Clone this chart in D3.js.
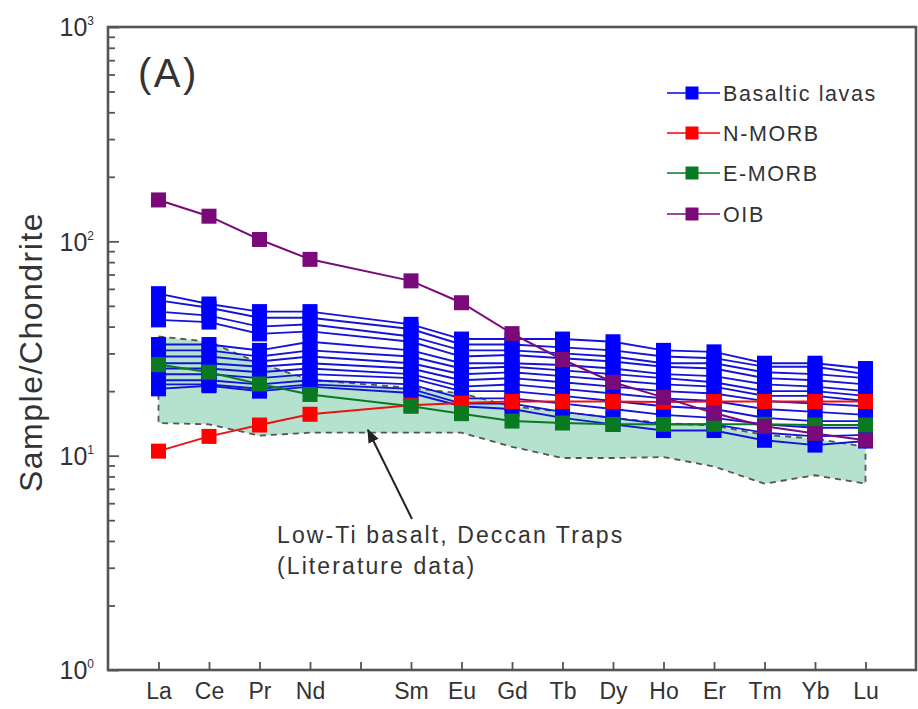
<!DOCTYPE html>
<html><head><meta charset="utf-8">
<script src="https://cdn.jsdelivr.net/npm/d3@7"></script>
<style>body{margin:0;background:#fff}svg{display:block}text{font-family:"Liberation Sans",Arial,sans-serif;fill:#333}</style>
</head><body><svg id="c" width="918" height="709"></svg>
<script>
// ---- data ----
const positions = ["La","Ce","Pr","Nd","Pm","Sm","Eu","Gd","Tb","Dy","Ho","Er","Tm","Yb","Lu"];
const ree = ["La","Ce","Pr","Nd","Sm","Eu","Gd","Tb","Dy","Ho","Er","Tm","Yb","Lu"];
const yTickValues = [1,10,100,1000];
const yTickExponents = ["0","1","2","3"];

const nMorb = [10.5,12.3,13.9,15.6,17.2,17.6,17.9,17.9,17.9,17.8,17.9,17.9,17.9,17.9];
const eMorb = [26.6,24.5,21.6,19.3,17.0,15.7,14.5,14.2,14.0,14.0,14.0,14.0,13.9,13.9];
const oib   = [156,131,102,82.4,65.4,51.7,37.1,28.1,22.0,18.7,15.8,13.7,12.7,11.8];

const basalt1  = [57,51,47,47,41,35,35,35,34,31,30.5,27,27,25.5];
const basalt2  = [53,49,44,44,39,33,33,32,31,29,28.5,26,26,24];
const basalt3  = [47,45,40,41,36,31,31,30,29,27,27,24.5,24,23];
const basalt4  = [43,42,37,38,34,29,29.5,28.5,27.5,26,25.5,23,22.5,21.5];
const basalt5  = [33,33,31,34,31,27,27,26.5,25.5,24,23.5,21.5,21,20];
const basalt6  = [31,31,29,31,29,25.5,26,25,24,23,22,20,20,19];
const basalt7  = [29,29,27.5,29,27,24,24.5,23.5,22.5,21.5,21,19,19,18];
const basalt8  = [27,27,26,27,25.5,22.5,23,22,21,20,19.5,18,17.5,17];
const basalt9  = [25.5,25.5,24.5,25.5,24,21,21.5,20.5,19.5,18.5,18,16.5,16,15.5];
const basalt10 = [24,24,23,24,23,20,20,19,18,17,16.5,15,14.5,14.5];
const basalt11 = [22.5,22.5,21.5,22.5,21.5,18.5,18.5,17.5,16.5,15.5,15,14,13.5,13.5];
const basalt12 = [21.5,21.5,20.5,21.5,20.5,17.5,17.5,16,15,14,14,12.8,12.3,12.5];
const basalt13 = [20.5,21.2,20,21,19.6,17,16.5,15,14,13.1,13.1,11.8,11.2,11.7];
const basaltSamples = [basalt1,basalt2,basalt3,basalt4,basalt5,basalt6,basalt7,basalt8,basalt9,basalt10,basalt11,basalt12,basalt13];

const deccanUpper = [36,34,27,22.6,20.7,19.5,17,16,15,14.2,13.8,12.5,12,11];
const deccanLower = [14.2,14,12.4,12.8,12.8,12.8,11,9.75,9.75,9.85,8.9,7.4,8.1,7.4];

const legendLabels = ["Basaltic lavas","N-MORB","E-MORB","OIB"];

// ---- chart ----
const svg = d3.select("#c");
const L=108, R=916, T=27, B=670;
const x = d3.scalePoint().domain(positions).range([L,R]).padding(1);
const y = d3.scaleLog().domain([1,1000]).range([B,T]);

const col = {blue:"#0000ff", red:"#ff0000", green:"#0a7a22", purple:"#7a0a7a"};

// Deccan field
const area = d3.area().x((d,i)=>x(ree[i])).y0(d=>y(d[1])).y1(d=>y(d[0]));
const band = deccanUpper.map((u,i)=>[u,deccanLower[i]]);
svg.append("path").attr("d",area(band)).attr("fill","#b4e2cf").attr("stroke","none");
const outline = ree.map((r,i)=>[x(r),y(deccanUpper[i])]).concat(ree.slice().reverse().map((r,j)=>[x(r),y(deccanLower[ree.length-1-j])]));
svg.append("path").attr("d",d3.line()(outline)+"Z").attr("fill","none")
  .attr("stroke","#555").attr("stroke-width",1.8).attr("stroke-dasharray","6,5");

const line = d3.line().x((d,i)=>x(ree[i])).y(d=>y(d));
const ms = 15;
function series(data, c, lc, lw){
  const g = svg.append("g");
  g.append("path").attr("d",line(data)).attr("fill","none").attr("stroke",lc).attr("stroke-width",lw);
  g.selectAll("rect").data(data).join("rect")
    .attr("x",(d,i)=>x(ree[i])-ms/2).attr("y",d=>y(d)-ms/2)
    .attr("width",ms).attr("height",ms).attr("fill",c);
}
basaltSamples.forEach(s=>series(s,col.blue,"#1414d8",1.9));
series(nMorb,col.red,"#ee1111",2);
series(eMorb,col.green,col.green,2);
series(oib,col.purple,col.purple,2);

// axes
const minorVals = [];
for (let e=0;e<3;e++) for (let m=2;m<=9;m++) minorVals.push(m*Math.pow(10,e));
svg.append("g").attr("transform",`translate(${L},0)`)
  .call(d3.axisLeft(y).tickValues(minorVals).tickSizeInner(-7).tickSizeOuter(0).tickFormat(""))
  .call(g=>g.select(".domain").remove())
  .call(g=>g.selectAll("line").attr("stroke","#555").attr("stroke-width",1.8));
const yAx = svg.append("g").attr("transform",`translate(${L},0)`)
  .call(d3.axisLeft(y).tickValues(yTickValues).tickSizeInner(-11).tickSizeOuter(0).tickPadding(14).tickFormat(""))
  .call(g=>g.select(".domain").remove())
  .call(g=>g.selectAll("line").attr("stroke","#555").attr("stroke-width",1.8));
yAx.selectAll(".tick text").each(function(d,i){
  const t=d3.select(this).attr("font-size",25).attr("fill","#333").attr("dy","0.35em");
  t.append("tspan").text("10");
  t.append("tspan").attr("dy",-11).attr("font-size",12).text(yTickExponents[i]);
});

const xAx = svg.append("g").attr("transform",`translate(0,${B})`)
  .call(d3.axisBottom(x).tickSizeInner(-8).tickSizeOuter(0).tickPadding(13).tickFormat(d=>d==="Pm"?"":d))
  .call(g=>g.select(".domain").remove())
  .call(g=>g.selectAll("line").attr("stroke","#555").attr("stroke-width",1.8));
xAx.selectAll(".tick text").attr("font-size",23).attr("fill","#333").attr("font-family","'Liberation Sans',Arial,sans-serif");

// frame
svg.append("rect").attr("x",L).attr("y",T).attr("width",R-L).attr("height",B-T)
  .attr("fill","none").attr("stroke","#555").attr("stroke-width",2.6);

// y title
svg.append("text").attr("transform",`translate(42,352) rotate(-90)`).attr("text-anchor","middle")
  .attr("font-size",32).attr("letter-spacing",1.5).text("Sample/Chondrite");

// panel label
svg.append("text").attr("x",138).attr("y",87).attr("font-size",40).attr("letter-spacing",2.5).text("(A)");

// legend
const lgColors=[col.blue,col.red,col.green,col.purple];
const lgY=[93,133,173,214];
legendLabels.forEach((lab,i)=>{
  const g=svg.append("g");
  g.append("line").attr("x1",667).attr("x2",720).attr("y1",lgY[i]).attr("y2",lgY[i]).attr("stroke",lgColors[i]).attr("stroke-width",1.5);
  g.append("rect").attr("x",692-6.5).attr("y",lgY[i]-6.5).attr("width",13).attr("height",13).attr("fill",lgColors[i]);
  g.append("text").attr("x",723).attr("y",lgY[i]+8).attr("font-size",21.5).attr("letter-spacing",1.6).text(lab);
});

// annotation
const defs=svg.append("defs");
defs.append("marker").attr("id","ah").attr("viewBox","0 0 10 10").attr("refX",9).attr("refY",5)
  .attr("markerWidth",7).attr("markerHeight",7).attr("orient","auto")
  .append("path").attr("d","M0,1 L10,5 L0,9 Z").attr("fill","#222");
svg.append("line").attr("x1",412).attr("y1",519).attr("x2",368).attr("y2",430)
  .attr("stroke","#222").attr("stroke-width",2).attr("marker-end","url(#ah)");
svg.append("text").attr("x",277).attr("y",543).attr("font-size",23).attr("letter-spacing",2.1).text("Low-Ti basalt, Deccan Traps");
svg.append("text").attr("x",277).attr("y",574).attr("font-size",23).attr("letter-spacing",2.1).text("(Literature data)");
</script></body></html>
